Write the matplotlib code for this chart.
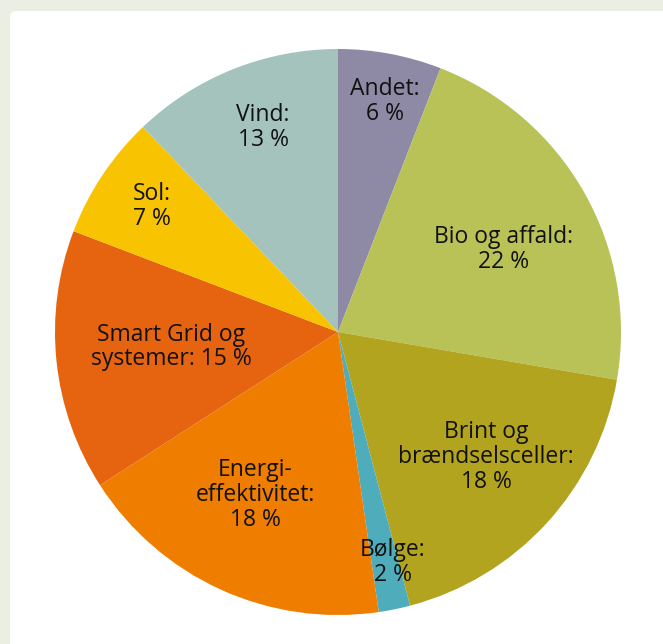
import numpy as np
import matplotlib
matplotlib.use('Agg')
import matplotlib.pyplot as plt
from matplotlib.patches import FancyBboxPatch

labels = ['Andet:\n6 %', 'Bio og affald:\n22 %', 'Brint og\nbrændselsceller:\n18 %',
          'Bølge:\n2 %', 'Energi-\neffektivitet:\n18 %', 'Smart Grid og\nsystemer: 15 %',
          'Sol:\n7 %', 'Vind:\n13 %']
# slice sizes (the labels show rounded figures)
values = [5.9, 21.8, 18.2, 1.8, 18.2, 14.9, 7.1, 12.1]
colors = ['#8e8aa6', '#b8c257', '#b2a41e', '#4fadbb', '#ef7d00', '#e6640f', '#f8c300', '#a4c3bd']

# label centres in pie units (radius = 1)
label_xy = [(0.166, 0.816), (0.585, 0.293), (0.523, -0.442), (0.194, -0.813),
            (-0.293, -0.576), (-0.590, -0.053), (-0.657, 0.442), (-0.265, 0.724)]

W, H = 663, 644
fig = plt.figure(figsize=(W / 100, H / 100), dpi=100)
fig.patch.set_facecolor('#ebeee2')

# white rounded panel
panel = FancyBboxPatch((10 / W, -0.1), 1.2, 1.1 - 11 / H,
                       boxstyle='round,pad=0,rounding_size=0.01',
                       transform=fig.transFigure, facecolor='white', edgecolor='none',
                       zorder=-10)
fig.add_artist(panel)

cx, cy, R = 338, 332, 283
ax = fig.add_axes([(cx - R) / W, (H - cy - R) / H, 2 * R / W, 2 * R / H])
ax.set_zorder(5)
ax.patch.set_visible(False)
wedges, _ = ax.pie(values, colors=colors, startangle=90, counterclock=False,
                   radius=1, wedgeprops=dict(linewidth=0))
ax.set_xlim(-1, 1)
ax.set_ylim(-1, 1)
ax.set_aspect('equal')
ax.axis('off')

for (x, y), lab in zip(label_xy, labels):
    ax.text(x, y, lab, ha='center', va='center', fontsize=16.5,
            family='Open Sans', linespacing=1.05, color='#111111')

fig.savefig('out.png', dpi=100, facecolor=fig.get_facecolor())
